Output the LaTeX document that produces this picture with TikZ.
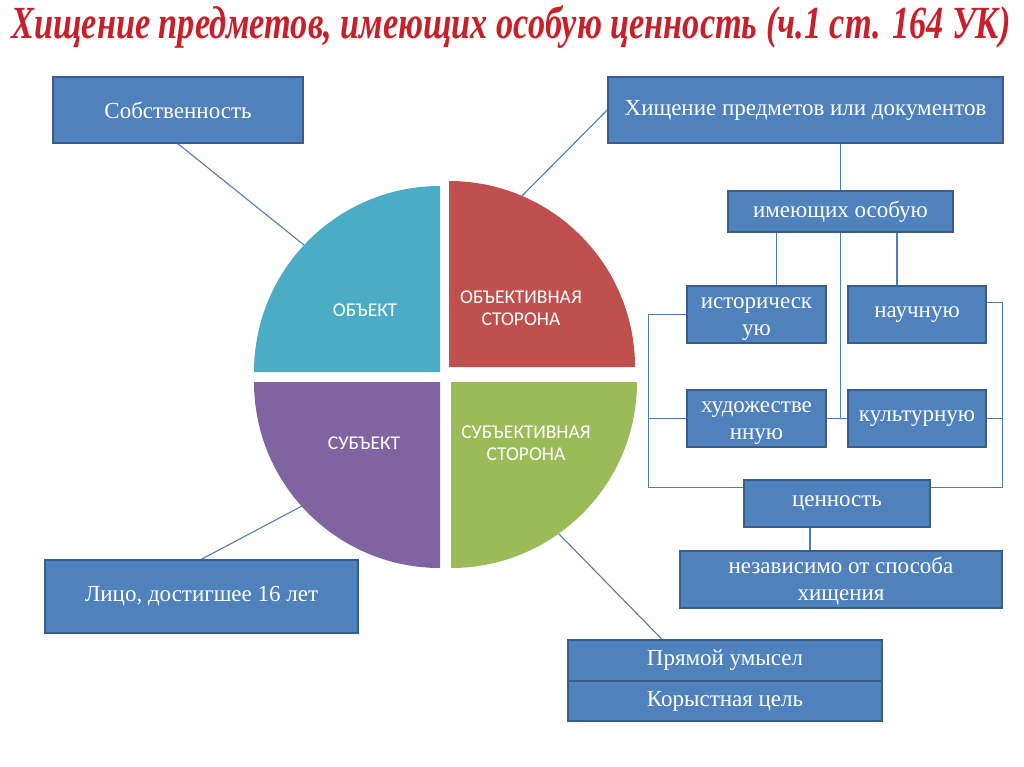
\documentclass[tikz,border=0pt]{standalone}
\usepackage{fontspec}
\usepackage{xcolor}
\usetikzlibrary{calc}
\setmainfont{Liberation Serif}
\newfontfamily\piefont{Carlito}

\definecolor{boxblue}{HTML}{4F81BD}
\definecolor{boxedge}{HTML}{385D8A}
\definecolor{linkblue}{HTML}{4A7EBB}
\definecolor{objcyan}{HTML}{4BACC6}
\definecolor{objred}{HTML}{C0504D}
\definecolor{subjpurple}{HTML}{8064A2}
\definecolor{subjgreen}{HTML}{9BBB59}
\definecolor{titlered}{HTML}{C8202A}

\newcommand{\linestrut}{\rule{0pt}{20pt}}

\tikzset{
  box/.style={draw=boxedge, fill=boxblue, line width=1.6pt, text=white, align=center,
    inner sep=0pt, font=\fontsize{23}{27}\selectfont},
  link/.style={draw=linkblue, line width=1.1pt},
  slice/.style={text=white, align=center, font=\piefont\fontsize{19.5}{22}\selectfont}
}

\begin{document}
\begin{tikzpicture}[x=1pt,y=-1pt]
    % Frame
    \useasboundingbox[fill=white] (0,0) rectangle (1024,767);

    % Title
    \node[text=titlered, font=\fontsize{46}{50}\selectfont\bfseries\itshape] (title) at (511,27)
      {\scalebox{0.745}[1]{Хищение предметов, имеющих особую ценность (ч.1 ст. 164 УК)}};

    % Pie
    \fill[objcyan] (440,372) -- (254,372) arc[start angle=180, end angle=270, radius=186] -- cycle;
    \fill[objred] (449,367) -- (449,181) arc[start angle=270, end angle=360, radius=186] -- cycle;
    \fill[subjgreen] (451,382) -- (637,382) arc[start angle=0, end angle=90, radius=186] -- cycle;
    \fill[subjpurple] (440,382) -- (440,568) arc[start angle=90, end angle=180, radius=186] -- cycle;

    \node[slice] (object) at (365,310) {ОБЪЕКТ};
    \node[slice] (objside) at (521,308) {ОБЪЕКТИВНАЯ\\СТОРОНА};
    \node[slice] (subject) at (364,443) {СУБЪЕКТ};
    \node[slice] (subjside) at (526,443) {СУБЪЕКТИВНАЯ\\СТОРОНА};

    \coordinate (objectpt) at (304,245);
    \coordinate (objsidept) at (522,196);
    \coordinate (subjectpt) at (302,506);
    \coordinate (subjsidept) at (559,534);

    % Boxes
    \node[box, minimum width=250, minimum height=66] (property) at (178,110) {Собственность};
    \node[box, minimum width=395, minimum height=66] (theft) at (805.5,110) {Хищение предметов или документов};
    \node[box, minimum width=225, minimum height=41] (special) at (840.5,211.5) {имеющих особую};
    \node[box, minimum width=139, minimum height=57] (hist) at (756.5,314.5) {\linestrut историческ\\ую};
    \node[box, minimum width=138, minimum height=57] (sci) at (917,314.5) {научную};
    \node[box, minimum width=139, minimum height=57] (art) at (756.5,418.5) {\linestrut художестве\\нную};
    \node[box, minimum width=138, minimum height=57] (cult) at (917,418.5) {культурную};
    \node[box, minimum width=186, minimum height=47] (value) at (837,503.5) {ценность};
    \node[box, minimum width=322, minimum height=57] (indep) at (841,579.5) {\linestrut независимо от способа\\хищения};
    \node[box, minimum width=313, minimum height=73] (person) at (201.5,596.5) {Лицо, достигшее 16 лет};
    \node[box, minimum width=314, minimum height=41] (intent) at (725,660.5) {Прямой умысел};
    \node[box, minimum width=314, minimum height=40] (greed) at (725,701) {Корыстная цель};

    % Links to the pie
    \draw[link] (property.south) -- (objectpt);
    \draw[link] (theft.west) -- (objsidept);
    \draw[link] (person.north) -- (subjectpt);
    \draw[link] ($(intent.north west)!0.3!(intent.north east)$) -- (subjsidept);

    % Tree on the right
    \draw[link] (special.north |- theft.south) -- (special.north);
    \draw[link] ([xshift=20]hist.north |- special.south) -- ([xshift=20]hist.north);
    \draw[link] ([xshift=-20]sci.north |- special.south) -- ([xshift=-20]sci.north);
    \draw[link] (special.south) -- (special.south |- art.east);
    \draw[link] (art.east) -- (cult.west);
    \draw[link] (hist.west) -- ++(-38,0) |- ([yshift=16]value.west);
    \draw[link] (art.west) -- ++(-38,0);
    \draw[link] ([yshift=12]sci.east) -- ++(16,0) |- ([yshift=16]value.east);
    \draw[link] (cult.east) -- ++(16,0);
    \draw[link] ([xshift=-27]value.south) -- ([xshift=-27]value.south |- indep.north);
\end{tikzpicture}
\end{document}
